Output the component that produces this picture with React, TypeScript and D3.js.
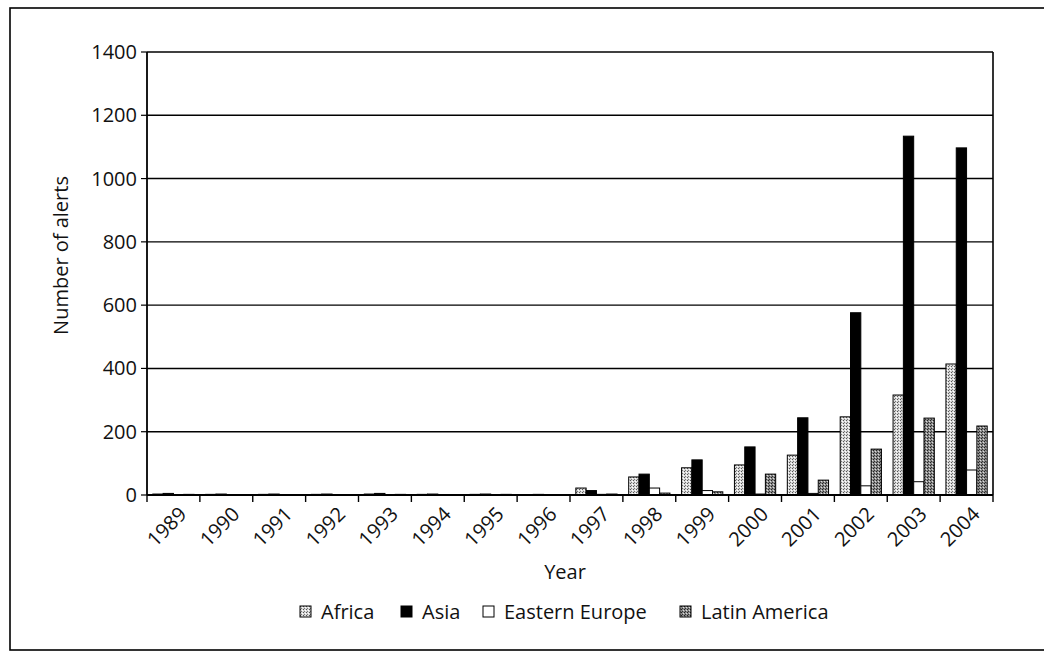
import React from "react";
import * as d3 from "d3";

const years = ["1989","1990","1991","1992","1993","1994","1995","1996","1997","1998","1999","2000","2001","2002","2003","2004"];
const seriesNames = ["Africa", "Asia", "Eastern Europe", "Latin America"];
const africa = [3, 2, 2, 2, 3, 2, 2, 1, 22, 57, 86, 95, 126, 247, 316, 414];
const asia = [5, 3, 3, 3, 5, 3, 3, 2, 14, 66, 111, 152, 244, 576, 1134, 1097];
const easternEurope = [0, 0, 0, 0, 1, 0, 0, 0, 2, 22, 14, 3, 5, 29, 42, 79];
const latinAmerica = [2, 1, 1, 1, 2, 1, 2, 1, 3, 6, 10, 66, 47, 145, 243, 218];
const yTicks = [0, 200, 400, 600, 800, 1000, 1200, 1400];

const seriesValues = [africa, asia, easternEurope, latinAmerica];
const fills = ["url(#patAfrica)", "#000", "#fff", "url(#patLatin)"];

const FONT = "'Open Sans', 'Noto Sans', sans-serif";
const FS = 20;

export default function App() {
  const left = 147, right = 993, top = 52, bottom = 495;
  const x = d3.scaleBand<string>().domain(years).range([left, right]).paddingInner(0.22).paddingOuter(0.11);
  const xs = d3.scaleBand<string>().domain(seriesNames).range([0, x.bandwidth()]).padding(0);
  const y = d3.scaleLinear().domain([0, 1400]).range([bottom, top]);
  const step = x.step();
  const boundaries = d3.range(years.length + 1).map(i => left + i * step);

  const legendItems = [
    { name: "Africa", fill: "url(#patAfrica)", x: 300 },
    { name: "Asia", fill: "#000", x: 401 },
    { name: "Eastern Europe", fill: "#fff", x: 483 },
    { name: "Latin America", fill: "url(#patLatin)", x: 680 },
  ];

  return (
    <svg width={1044} height={652} style={{ position: "absolute", left: 0, top: 0, background: "#fff" }} fontFamily={FONT}>
      <defs>
        <pattern id="patAfrica" width={3} height={3} patternUnits="userSpaceOnUse">
          <rect width={3} height={3} fill="#d8d8d8" />
          <rect x={0} y={0} width={1} height={1} fill="#555" />
          <rect x={2} y={1} width={1} height={1} fill="#fff" />
          <rect x={1} y={2} width={1} height={1} fill="#777" />
        </pattern>
        <pattern id="patLatin" width={3} height={3} patternUnits="userSpaceOnUse">
          <rect width={3} height={3} fill="#8a8a8a" />
          <rect x={0} y={0} width={1} height={1} fill="#222" />
          <rect x={2} y={1} width={1} height={1} fill="#ddd" />
          <rect x={1} y={2} width={1} height={1} fill="#333" />
        </pattern>
      </defs>
      <rect x={10} y={8} width={1060} height={642} fill="none" stroke="#000" strokeWidth={1.6} />

      {yTicks.map(t => (
        <g key={t}>
          {t > 0 && <line x1={left} x2={right} y1={y(t)} y2={y(t)} stroke="#000" strokeWidth={1.4} />}
          <line x1={left - 6} x2={left} y1={y(t)} y2={y(t)} stroke="#000" strokeWidth={1.2} />
          <text x={left - 10} y={y(t)} dy="0.35em" textAnchor="end" fontSize={FS} fill="#111">{t}</text>
        </g>
      ))}
      <line x1={right} x2={right} y1={top} y2={bottom} stroke="#000" strokeWidth={1.6} />

      {years.map((yr, i) => (
        <g key={yr}>
          {seriesValues.map((vals, s) => {
            const v = vals[i];
            const h = bottom - y(v);
            return (
              <rect key={s} x={(x(yr) as number) + (xs(seriesNames[s]) as number)} y={y(v)} width={xs.bandwidth()} height={Math.max(h, 0)}
                fill={fills[s]} stroke="#000" strokeWidth={h > 0 ? 1 : 0} />
            );
          })}
        </g>
      ))}

      <line x1={left} x2={left} y1={top} y2={bottom} stroke="#000" strokeWidth={1.8} />
      <line x1={left} x2={right} y1={bottom} y2={bottom} stroke="#000" strokeWidth={1.8} />
      {boundaries.map((b, i) => (
        <line key={i} x1={b} x2={b} y1={bottom} y2={bottom + 7} stroke="#000" strokeWidth={1.4} />
      ))}
      {years.map(yr => {
        const cx = (x(yr) as number) + x.bandwidth() / 2 + 6;
        const cy = bottom + 12;
        return (
          <text key={yr} x={cx} y={cy} textAnchor="end" fontSize={FS} fill="#111" transform={`rotate(-45 ${cx} ${cy})`} dy="0.6em">{yr}</text>
        );
      })}

      <text transform={`translate(68 ${(top + bottom) / 2 - 18}) rotate(-90)`} textAnchor="middle" fontSize={FS} fill="#111">Number of alerts</text>
      <text x={565} y={579} textAnchor="middle" fontSize={FS} fill="#111">Year</text>

      {legendItems.map(it => (
        <g key={it.name}>
          <rect x={it.x} y={606} width={11} height={11} fill={it.fill} stroke="#000" strokeWidth={1} />
          <text x={it.x + 21} y={619} fontSize={FS} fill="#111">{it.name}</text>
        </g>
      ))}
    </svg>
  );
}
